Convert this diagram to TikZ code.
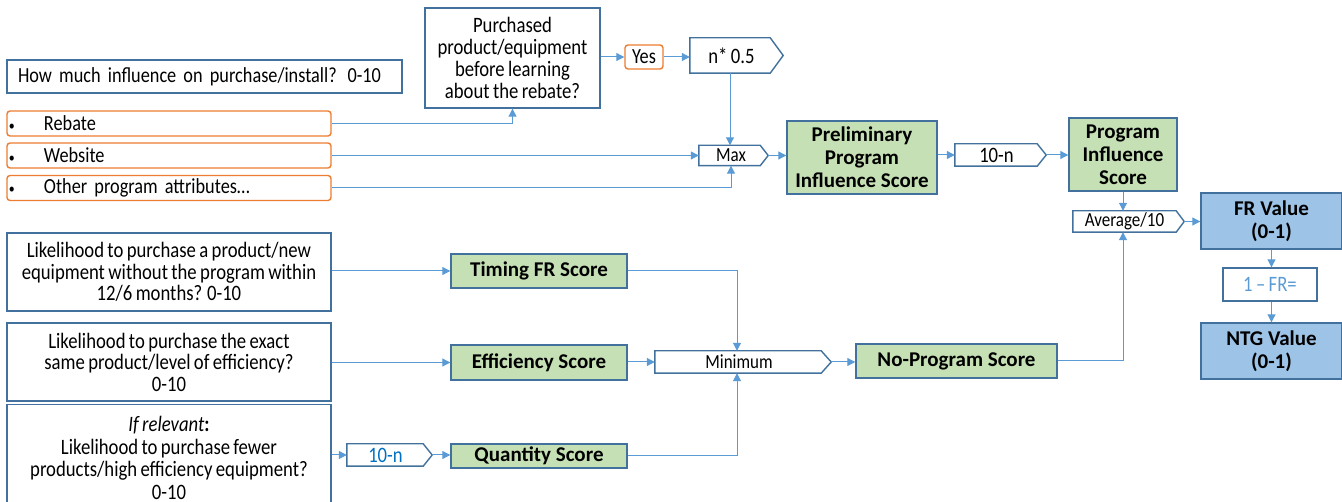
\documentclass[tikz,border=0pt]{standalone}
\usepackage{fontspec}
\setmainfont{Carlito}[FakeStretch=0.85, WordSpace=0.8]
\newfontfamily\bfam{Carlito}
\usetikzlibrary{arrows.meta}
\definecolor{bord}{HTML}{41719C}
\definecolor{conn}{HTML}{5B9BD5}
\definecolor{gfill}{HTML}{C5E0B4}
\definecolor{bfill}{HTML}{9DC3E6}
\definecolor{orng}{HTML}{ED7D31}
\definecolor{tblue}{HTML}{0070C0}
\definecolor{lblue}{HTML}{5B9BD5}
\newcommand{\sigoutline}[2]{\draw[draw=bord, line width=1.4pt, line join=miter] (#1.north west) -- ([xshift=-#2pt]#1.north east) -- (#1.east) -- ([xshift=-#2pt]#1.south east) -- (#1.south west) -- cycle;}
\begin{document}
\begin{tikzpicture}[x=1pt,y=-1pt,
  box/.style={draw=bord, line width=1.4pt, fill=white, inner sep=0pt, align=center, font=\fontsize{22}{21.5}\selectfont},
  obox/.style={draw=orng, line width=1.4pt, rounded corners=3pt, fill=white, inner sep=0pt, font=\fontsize{21.5}{22}\selectfont},
  gbox/.style={draw=bord, line width=1.4pt, fill=gfill, inner sep=0pt, align=center, font=\bfam\bfseries\fontsize{21}{23}\selectfont},
  bbox/.style={draw=bord, line width=1.4pt, fill=bfill, inner sep=0pt, align=center, font=\bfam\bfseries\fontsize{21}{23}\selectfont},
  sigbox/.style={draw=none, inner sep=0pt, align=center},
  conn/.style={draw=conn, line width=1pt, -{Triangle[length=8pt,width=8pt]}}
]
\useasboundingbox (0,0) rectangle (1342,502);

% left input boxes
\node[box, minimum width=395, minimum height=33, text width=373, align=left, font=\fontsize{21.5}{21}\selectfont] (how) at (204.5,76.5) {How much influence on purchase/install? 0-10};
\node[obox, minimum width=324, minimum height=25, text width=320, align=left] (reb) at (169,123.5) {\makebox[35pt][l]{\fontsize{14}{14}\selectfont•}Rebate};
\node[obox, minimum width=324, minimum height=25, text width=320, align=left] (web) at (169,155.5) {\makebox[35pt][l]{\fontsize{14}{14}\selectfont•}Website};
\node[obox, minimum width=324, minimum height=25, text width=320, align=left] (oth) at (169,188) {\makebox[35pt][l]{\fontsize{14}{14}\selectfont•}Other program attributes…};

\node[box, minimum width=175, minimum height=100, font=\fontsize{22}{22}\selectfont] (pur) at (512.5,58) {Purchased\\product/equipment\\before learning\\about the rebate?};
\node[obox, minimum width=38, minimum height=24] (yes) at (644,57) {Yes};
\node[sigbox, minimum width=93, minimum height=35, font=\fontsize{22}{22}\selectfont] (n05) at (736.5,55.5) {n* 0.5\hspace*{10pt}};
\node[sigbox, minimum width=69, minimum height=20, font=\fontsize{20}{20}\selectfont] (max) at (733.5,155.5) {Max\hspace*{5pt}};

\node[gbox, minimum width=150, minimum height=73] (pre) at (862,157.5) {Preliminary\\Program\\Influence Score};
\node[sigbox, minimum width=91, minimum height=22, font=\fontsize{22}{22}\selectfont] (tn) at (1000.5,155) {10-n\hspace*{8pt}};
\node[gbox, minimum width=108, minimum height=73] (pis) at (1123,154.5) {Program\\Influence\\Score};
\node[sigbox, minimum width=111, minimum height=21, font=\fontsize{20}{20}\selectfont] (avg) at (1128.5,221.5) {Average/10\hspace*{8pt}};
\node[bbox, minimum width=141, minimum height=56] (fr) at (1271.5,221) {FR Value\\(0-1)};
\node[draw=bord, line width=1.4pt, inner sep=0pt, minimum width=94, minimum height=33, text=lblue, font=\fontsize{22}{22}\selectfont] (ofr) at (1270,284.5) {1 -- FR=};
\node[bbox, minimum width=141, minimum height=56] (ntg) at (1271.5,351) {NTG Value\\(0-1)};

% lower part
\node[box, minimum width=324, minimum height=78] (lk1) at (169,272) {Likelihood to purchase a product/new\\equipment without the program within\\12/6 months? 0-10};
\node[box, minimum width=324, minimum height=78] (lk2) at (169,362) {Likelihood to purchase the exact\\same product/level of efficiency?\\0-10};
\node[box, minimum width=324, minimum height=106, anchor=north, font=\fontsize{22}{22.5}\selectfont] (lk3) at (169,404) {\textit{If relevant}\textbf{:}\\Likelihood to purchase fewer\\products/high efficiency equipment?\\0-10};
\node[sigbox, minimum width=85, minimum height=22, text=tblue, font=\fontsize{22}{22}\selectfont] (tnq) at (389.5,455) {10-n\hspace*{8pt}};

\node[gbox, minimum width=176, minimum height=34] (tim) at (539,271) {Timing FR Score};
\node[gbox, minimum width=176, minimum height=35] (eff) at (539,362.5) {Efficiency Score};
\node[gbox, minimum width=176, minimum height=24] (qua) at (539,456) {Quantity Score};
\node[sigbox, minimum width=176, minimum height=22, font=\fontsize{20}{20}\selectfont] (min) at (743,362) {Minimum\hspace*{8pt}};
\node[gbox, minimum width=201, minimum height=34] (nps) at (956.5,361) {No-Program Score};

% signal outlines
\sigoutline{n05}{13}
\sigoutline{max}{8}
\sigoutline{tn}{9}
\sigoutline{avg}{8}
\sigoutline{tnq}{9}
\sigoutline{min}{10}

% connectors
\draw[conn] (reb.east) -| (pur.south);
\draw[conn] (web.east) -- (max.west);
\draw[conn] (oth.east) -| ([xshift=-2.5pt]max.south);
\draw[conn] (pur.east |- yes.west) -- (yes.west);
\draw[conn] (yes.east) -- (n05.west |- yes.east);
\draw[conn] ([xshift=-3.5pt]max.north |- n05.south) -- ([xshift=-3.5pt]max.north);
\draw[conn] (max.east) -- (pre.west |- max.east);
\draw[conn] (pre.east |- tn.west) -- (tn.west);
\draw[conn] (tn.east) -- (pis.west |- tn.east);
\draw[conn] (pis.south) -- (pis.south |- avg.north);
\draw[conn] (avg.east) -- (fr.west |- avg.east);
\draw[conn] (fr.south) -- (fr.south |- ofr.north);
\draw[conn] (fr.south |- ofr.south) -- (ntg.north);

\draw[conn] (lk1.east |- tim.west) -- (tim.west);
\draw[conn] (lk2.east |- eff.west) -- (eff.west);
\draw[conn] (lk3.east |- tnq.west) -- (tnq.west);
\draw[conn] (tnq.east) -- (qua.west |- tnq.east);
\draw[conn] (eff.east |- min.west) -- (min.west);
\draw[conn] (tim.east) -| ([xshift=-6pt]min.north);
\draw[conn] (qua.east) -| ([xshift=-6pt]min.south);
\draw[conn] (min.east) -- (nps.west |- min.east);
\draw[conn] (nps.east) -| (pis.south |- avg.south);
\end{tikzpicture}
\end{document}
